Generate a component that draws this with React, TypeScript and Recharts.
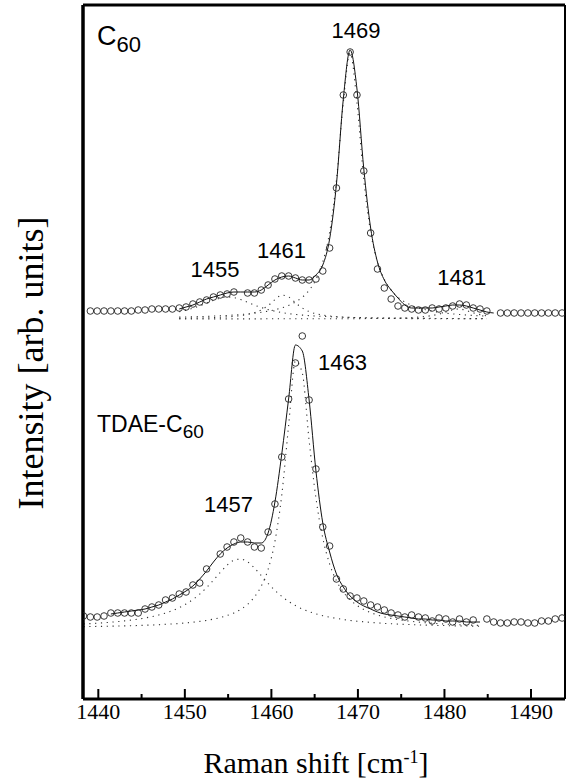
import {
  ComposedChart,
  Line,
  ReferenceDot,
  ReferenceLine,
  Scatter,
  XAxis,
  YAxis,
} from "recharts";

// Raman shift grid (cm-1), shared by both spectra
const WAVENUMBER = [
  1438.29, 1439.08, 1439.87, 1440.66, 1441.45, 1442.24, 1443.03, 1443.82, 1444.61, 1445.4,
  1446.19, 1446.98, 1447.77, 1448.56, 1449.35, 1450.14, 1450.93, 1451.72, 1452.51, 1453.3,
  1454.09, 1454.88, 1455.67, 1456.46, 1457.25, 1458.04, 1458.83, 1459.62, 1460.41, 1461.2,
  1461.99, 1462.78, 1463.57, 1464.36, 1465.15, 1465.94, 1466.73, 1467.52, 1468.31, 1469.1,
  1469.89, 1470.68, 1471.47, 1472.26, 1473.05, 1473.84, 1474.63, 1475.42, 1476.21, 1477.0,
  1477.79, 1478.58, 1479.37, 1480.16, 1480.95, 1481.74, 1482.53, 1483.32, 1484.11, 1484.9,
  1485.69, 1486.48, 1487.27, 1488.06, 1488.85, 1489.64, 1490.43, 1491.22, 1492.01, 1492.8,
  1493.59,
];

// C60 (upper trace), arbitrary units with vertical offset
const C60_MEASURED = [
  null, 388, 388, 388, 388, 388, 388, 388, 389, 389,
  390, 390, 390, 390, 391, 392, 395, 397, 399, 402,
  404, 405, 407, null, 406, 406, 409, 414, 420, 423,
  423, 421, 419, 419, 420, 428, 451, 511, 604, 647,
  604, 528, 466, 430, 411, 400, 393, 391, 390, 389,
  389, 391, 390, 391, 393, 395, 394, 391, 390, 388,
  null, 386, 386, 386, 386, 386, 386, 386, 386, 386,
  386,
];
const C60_FIT_START = 14;
const C60_FIT = [
  390, 392, 394, 397, 400, 402, 404, 406, 407, 407,
  407, 407, 409, 414, 419, 422, 423, 421, 419, 419,
  424, 434, 460, 515, 600, 649, 610, 530, 471, 437,
  419, 409, 401, 394, 391, 391, 391, 391, 392, 393,
  394, 394, 393, 391, 389, 387, 386,
];
const C60_BAND_START = 14;
const C60_BAND_1455 = [
  387.3, 388.9, 390.8, 393.2, 395.9, 398.6, 400.9, 402.0, 401.4, 399.4,
  396.7, 393.9, 391.5, 389.4, 387.8, 386.5, 385.4, 384.6, 383.9, 383.4,
  383.0, 382.6, 382.3, 382.0, 381.8, 381.6, 381.5, 381.3, 381.2, 381.1,
  381.0, 380.9, 380.9, 380.8, 380.7, 380.7, 380.6, 380.6, 380.5, 380.5,
  380.5, 380.4, 380.4, 380.4, 380.4, 380.3,
];
const C60_BAND_1461 = [
  380.6, 380.7, 380.9, 381.0, 381.2, 381.4, 381.7, 382.1, 382.6, 383.4,
  384.5, 386.3, 389.1, 393.4, 399.3, 403.8, 402.1, 396.3, 391.0, 387.5,
  385.3, 383.9, 383.0, 382.3, 381.9, 381.5, 381.3, 381.1, 380.9, 380.8,
  380.7, 380.6, 380.5, 380.5, 380.4, 380.4, 380.3, 380.3, 380.3, 380.3,
  380.2, 380.2, 380.2, 380.2, 380.2, 380.2,
];
const C60_BAND_1469 = [
  381.9, 382.0, 382.2, 382.4, 382.6, 382.9, 383.2, 383.5, 384.0, 384.5,
  385.1, 385.8, 386.7, 387.8, 389.3, 391.1, 393.6, 397.0, 401.7, 408.8,
  419.5, 437.0, 466.8, 518.8, 596.4, 646.0, 596.4, 518.8, 466.8, 437.0,
  419.5, 408.8, 401.7, 397.0, 393.6, 391.1, 389.3, 387.8, 386.7, 385.8,
  385.1, 384.5, 384.0, 383.5, 383.2, 382.9,
];
const C60_BAND_1481 = [
  380.1, 380.1, 380.1, 380.1, 380.1, 380.1, 380.1, 380.1, 380.1, 380.1,
  380.1, 380.1, 380.1, 380.2, 380.2, 380.2, 380.2, 380.2, 380.2, 380.2,
  380.2, 380.3, 380.3, 380.3, 380.3, 380.3, 380.3, 380.4, 380.5, 380.5,
  380.6, 380.7, 380.9, 381.1, 381.4, 381.9, 382.5, 383.5, 384.9, 387.0,
  389.2, 390.0, 388.5, 386.2, 384.4, 383.1,
];

// TDAE-C60 (lower trace)
const TDAE_MEASURED = [
  83, 82, 82, 83, 86, 86, 86, 86, 86, 90,
  92, 94, 99, 101, 105, 107, 114, 116, 130, null,
  145, 152, 157, 161, 157, 152, 151, 167, 195, 242,
  300, 336, 363, 299, 230, 172, 153, 120, 110, 103,
  101, 98, 94, 92, 89, 86, 84, 82, 84, 82,
  81, 78, 81, 80, 77, 80, 77, 79, null, 80,
  77, 76, 76, 77, 77, 76, 76, 78, 78, 80,
  81,
];
const TDAE_FIT_START = 4;
const TDAE_FIT = [
  85, 86, 87, 88, 89, 90, 92, 94, 97, 100,
  104, 108, 113, 120, 128, 137, 145, 151, 155, 157,
  157, 156, 156, 166, 197, 245, 300, 354, 348, 299,
  228, 176, 147, 125, 112, 103, 97, 93, 90, 87,
  85, 84, 83, 82, 81, 80, 80, 79, 79, 78,
  78, 78, 77, 77, 77,
];
const TDAE_BAND_START = 0;
const TDAE_BAND_1457 = [
  75.1, 75.4, 75.8, 76.3, 76.8, 77.4, 78.1, 78.9, 79.9, 81.0,
  82.4, 84.0, 86.0, 88.4, 91.4, 95.0, 99.5, 104.9, 111.4, 118.8,
  126.6, 133.8, 138.7, 139.9, 137.1, 131.0, 123.4, 115.7, 108.6, 102.6,
  97.5, 93.4, 90.1, 87.4, 85.2, 83.3, 81.8, 80.6, 79.5, 78.6,
  77.8, 77.2, 76.6, 76.1, 75.6, 75.3, 74.9, 74.6, 74.4, 74.1,
  73.9, 73.7, 73.5, 73.4, 73.2, 73.1, 73.0, 72.9, 72.8,
];
const TDAE_BAND_1463 = [
  72.4, 72.5, 72.6, 72.7, 72.8, 73.0, 73.1, 73.3, 73.5, 73.8,
  74.0, 74.3, 74.7, 75.1, 75.5, 76.1, 76.8, 77.6, 78.6, 79.9,
  81.4, 83.5, 86.1, 89.7, 94.7, 102.0, 112.8, 129.7, 157.6, 204.0,
  273.3, 338.0, 326.0, 258.4, 200.9, 160.9, 135.0, 118.2, 107.0, 99.2,
  93.6, 89.5, 86.4, 84.0, 82.1, 80.6, 79.4, 78.4, 77.6, 76.9,
  76.3, 75.8, 75.3, 74.9, 74.6, 74.3, 74.0, 73.8, 73.6,
];

const X_TICKS = [1440, 1445, 1450, 1455, 1460, 1465, 1470, 1475, 1480, 1485, 1490];
const X_DOMAIN: [number, number] = [1438.23, 1493.93];
const Y_DOMAIN: [number, number] = [0, 694];

const PEAK_LABELS = [
  { text: "1469", x: 1469.78, y: 661 },
  { text: "1455", x: 1453.49, y: 422 },
  { text: "1461", x: 1461.17, y: 441 },
  { text: "1481", x: 1481.99, y: 414 },
  { text: "1463", x: 1468.22, y: 329 },
  { text: "1457", x: 1455.05, y: 187 },
];

const SANS = "'Liberation Sans', Arial, Helvetica, sans-serif";
const SERIF = "'Liberation Serif', 'Times New Roman', Times, serif";

type Pt = { x: number; y: number };

function toPoints(values: (number | null)[], start = 0): Pt[] {
  const pts: Pt[] = [];
  values.forEach((v, k) => {
    if (v !== null) pts.push({ x: WAVENUMBER[start + k], y: v });
  });
  return pts;
}

function XTick({ x, y, payload }: { x?: number; y?: number; payload?: { value: number } }) {
  if (x == null || y == null || !payload) return null;
  const major = payload.value % 10 === 0;
  return (
    <g>
      <line stroke="#000" strokeWidth={2} x1={x} x2={x} y1={y} y2={y - (major ? 10 : 5)} />
      {major && (
        <text fill="#000" fontFamily={SERIF} fontSize={22} textAnchor="middle" x={x} y={y + 20}>
          {payload.value}
        </text>
      )}
    </g>
  );
}

function Circle(p: { cx?: number; cy?: number }) {
  if (p.cx == null || p.cy == null) return <g />;
  return <circle cx={p.cx} cy={p.cy} fill="none" r={3.3} stroke="#222" strokeWidth={0.9} />;
}

const dotted = { stroke: "#333", strokeWidth: 1.1, strokeDasharray: "1.2 4.6" };

export default function App() {
  return (
    <div style={{ position: "absolute", left: 0, top: 0, background: "#fff" }}>
      <ComposedChart height={778} margin={{ top: 5, right: 1, bottom: 19, left: 0 }} width={566}>
        <XAxis
          allowDataOverflow
          axisLine={{ stroke: "#000", strokeWidth: 3 }}
          dataKey="x"
          domain={X_DOMAIN}
          height={60}
          interval={0}
          label={() => (
            <text fill="#000" fontFamily={SERIF} fontSize={30} textAnchor="middle" x={316} y={773}>
              Raman shift [cm
              <tspan dy={-10} fontSize={18}>-1</tspan>
              <tspan dy={10}>]</tspan>
            </text>
          )}
          tick={<XTick />}
          tickLine={false}
          tickMargin={0}
          tickSize={0}
          ticks={X_TICKS}
          type="number"
        />
        <YAxis
          allowDataOverflow
          axisLine={{ stroke: "#000", strokeWidth: 3.5 }}
          dataKey="y"
          domain={Y_DOMAIN}
          label={() => (
            <text
              fill="#000"
              fontFamily={SERIF}
              fontSize={36}
              textAnchor="middle"
              transform="translate(43, 363) rotate(-90)"
            >
              Intensity [arb. units]
            </text>
          )}
          tick={false}
          tickLine={false}
          type="number"
          width={83}
        />
        <ReferenceLine stroke="#000" strokeWidth={3} y={Y_DOMAIN[1]} />
        <ReferenceLine stroke="#000" strokeWidth={2} x={X_DOMAIN[1]} />

        {[C60_BAND_1455, C60_BAND_1461, C60_BAND_1469, C60_BAND_1481].map((band, i) => (
          <Line
            data={toPoints(band, C60_BAND_START)}
            dataKey="y"
            dot={false}
            isAnimationActive={false}
            key={`c60b${i}`}
            type="monotone"
            {...dotted}
          />
        ))}
        {[TDAE_BAND_1457, TDAE_BAND_1463].map((band, i) => (
          <Line
            data={toPoints(band, TDAE_BAND_START)}
            dataKey="y"
            dot={false}
            isAnimationActive={false}
            key={`tdaeb${i}`}
            type="monotone"
            {...dotted}
          />
        ))}
        <Line
          data={toPoints(C60_FIT, C60_FIT_START)}
          dataKey="y"
          dot={false}
          isAnimationActive={false}
          stroke="#111"
          strokeWidth={1}
          type="monotone"
        />
        <Line
          data={toPoints(TDAE_FIT, TDAE_FIT_START)}
          dataKey="y"
          dot={false}
          isAnimationActive={false}
          stroke="#111"
          strokeWidth={1}
          type="monotone"
        />
        <Scatter data={toPoints(C60_MEASURED)} isAnimationActive={false} shape={Circle} />
        <Scatter data={toPoints(TDAE_MEASURED)} isAnimationActive={false} shape={Circle} />

        {PEAK_LABELS.map((l) => (
          <ReferenceDot
            ifOverflow="visible"
            key={l.text}
            r={0}
            shape={(p: { cx?: number; cy?: number }) => (
              <text fill="#000" fontFamily={SANS} fontSize={22} textAnchor="middle" x={p.cx} y={p.cy}>
                {l.text}
              </text>
            )}
            x={l.x}
            y={l.y}
          />
        ))}
        <ReferenceDot
          ifOverflow="visible"
          r={0}
          shape={(p: { cx?: number; cy?: number }) => (
            <text fill="#000" fontFamily={SANS} fontSize={27} x={p.cx} y={p.cy}>
              C<tspan dy={7} fontSize={22}>60</tspan>
            </text>
          )}
          x={1439.85}
          y={654}
        />
        <ReferenceDot
          ifOverflow="visible"
          r={0}
          shape={(p: { cx?: number; cy?: number }) => (
            <text fill="#000" fontFamily={SANS} fontSize={23} x={p.cx} y={p.cy}>
              TDAE-C<tspan dy={6} fontSize={19}>60</tspan>
            </text>
          )}
          x={1439.85}
          y={267}
        />
      </ComposedChart>
    </div>
  );
}
